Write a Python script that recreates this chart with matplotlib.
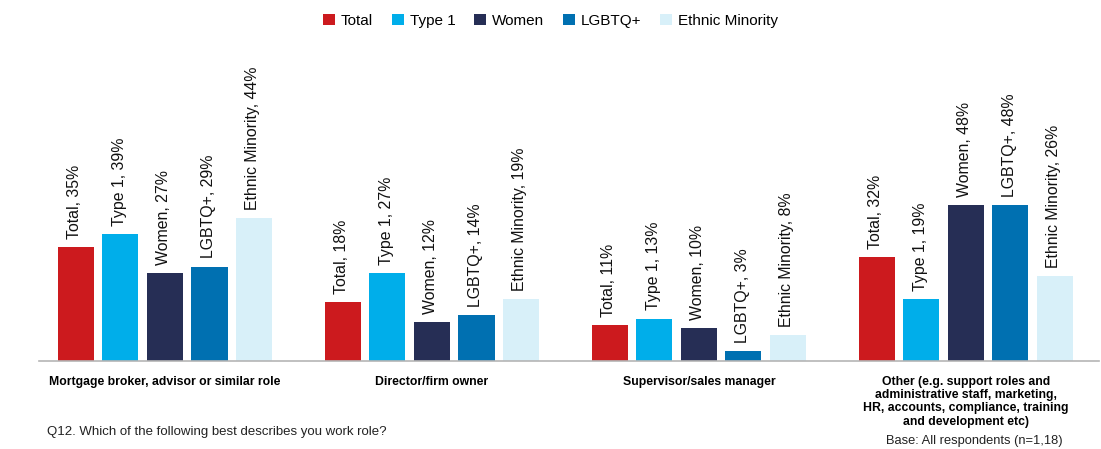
import matplotlib.pyplot as plt
import numpy as np

plt.rcParams['font.family'] = ['Liberation Sans', 'DejaVu Sans']

categories = ['Mortgage broker, advisor or similar role',
              'Director/firm owner',
              'Supervisor/sales manager',
              'Other (e.g. support roles and\nadministrative staff, marketing,\nHR, accounts, compliance, training\nand development etc)']
series = ['Total', 'Type 1', 'Women', 'LGBTQ+', 'Ethnic Minority']
total = [35, 18, 11, 32]
type1 = [39, 27, 13, 19]
women = [27, 12, 10, 48]
lgbtq = [29, 14, 3, 48]
ethnic = [44, 19, 8, 26]
colors = ['#CC1A1E', '#00AEEA', '#262E55', '#0070B1', '#D8F0F9']

values = [total, type1, women, lgbtq, ethnic]

fig = plt.figure(figsize=(11.01, 4.49), dpi=100)
ax = fig.add_axes([0.0286, 0.196, 0.97, 0.724])

x = np.arange(len(categories))
pitch = 0.1667
w = 0.135
for i, (name, vals, c) in enumerate(zip(series, values, colors)):
    pos = x + (i - 2) * pitch
    bars = ax.bar(pos, vals, w, color=c, label=name)
    for b, v in zip(bars, vals):
        ax.annotate('%s, %d%%' % (name, v), (b.get_x() + b.get_width() / 2, v),
                    xytext=(-1, 6), textcoords='offset points', rotation=90,
                    ha='center', va='bottom', fontsize=11.4, color='#111111')

ax.set_xlim(-0.5, 3.5)
ax.set_ylim(0, 100)
for s in ['top', 'right', 'left']:
    ax.spines[s].set_visible(False)
ax.spines['bottom'].set_color('#b5b5b5')
ax.spines['bottom'].set_linewidth(1.2)
ax.spines['bottom'].set_bounds(-0.47, 3.5)
ax.set_yticks([])
ax.set_xticks(x)
ax.set_xticklabels(categories, fontweight='bold', fontsize=8.8, linespacing=1.12)
ax.tick_params(axis='x', length=0, pad=11)

leg = fig.legend(loc='upper center', bbox_to_anchor=(0.5, 1.0), ncol=5, frameon=False,
                 fontsize=11, handlelength=0.8, handleheight=0.8, handletextpad=0.4,
                 columnspacing=1.2)

fig.text(47 / 1101, 1 - 432 / 449, 'Q12. Which of the following best describes you work role?',
         fontsize=9.5, va='center', ha='left', color='#222222')
fig.text(1063 / 1101, 1 - 441 / 449, 'Base: All respondents (n=1,18)',
         fontsize=9.3, va='center', ha='right', color='#222222')

plt.savefig('out.png', dpi=100)
